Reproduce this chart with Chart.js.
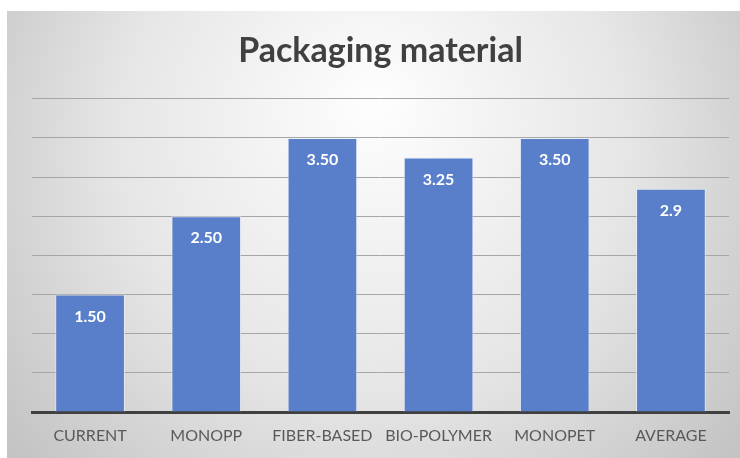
<!DOCTYPE html>
<html>
<head>
<meta charset="utf-8">
<script src="https://cdn.jsdelivr.net/npm/chart.js@4"></script>
<style>
  html, body { margin: 0; padding: 0; background: #fff; }
  #wrap { position: absolute; left: 7px; top: 11px; width: 733px; height: 447px; }
</style>
</head>
<body>
<div id="wrap"><canvas id="packaging-chart"></canvas></div>
<script>
// Packaging material scores
const categories = ["CURRENT", "MONOPP", "FIBER-BASED", "BIO-POLYMER", "MONOPET", "AVERAGE"];
const scores = [1.5, 2.5, 3.5, 3.25, 3.5, 2.85];
const labelDigits = [2, 2, 2, 2, 2, 1];

// Grey radial backdrop behind the whole chart
const backdrop = {
    id: "backdrop",
    beforeDraw(chart) {
        const c = chart.ctx;
        const w = chart.width, h = chart.height;
        const g = c.createRadialGradient(w * 0.5, h * 0.2, 10, w * 0.5, h * 0.35, w * 0.62);
        g.addColorStop(0, "#fdfdfd");
        g.addColorStop(0.55, "#e6e6e6");
        g.addColorStop(1, "#c4c4c4");
        c.save();
        c.fillStyle = g;
        c.fillRect(0, 0, w, h);
        c.restore();
    }
};

// White value labels near the top of each bar
const barValues = {
    id: "barValues",
    afterDatasetsDraw(chart) {
        const c = chart.ctx;
        const meta = chart.getDatasetMeta(0);
        c.save();
        c.font = "bold 16px Lato";
        c.fillStyle = "#ffffff";
        c.textAlign = "center";
        c.textBaseline = "middle";
        meta.data.forEach(function (bar, i) {
            c.fillText(scores[i].toFixed(labelDigits[i]), bar.x, bar.y + 22);
        });
        c.restore();
    }
};

const ctx = document.getElementById("packaging-chart").getContext("2d");
const myChart = new Chart(ctx, {
    type: "bar",
    data: {
        labels: categories,
        datasets: [{
            data: scores,
            backgroundColor: "#5a7fca",
            borderColor: "rgba(235, 240, 250, 0.7)",
            borderWidth: 1,
            borderSkipped: "bottom",
            categoryPercentage: 1,
            barPercentage: 0.6
        }]
    },
    options: {
        responsive: true,
        maintainAspectRatio: false,
        animation: false,
        layout: { padding: { left: 25, right: 11, top: 20, bottom: 0 } },
        plugins: {
            legend: { display: false },
            tooltip: { enabled: false },
            title: {
                display: true,
                text: "Packaging material",
                color: "#404040",
                font: { family: "Lato", size: 34, weight: "bold" },
                padding: { top: 0, bottom: 27 }
            }
        },
        scales: {
            x: {
                grid: { display: false, drawTicks: false },
                border: { display: true, color: "#404040", width: 3 },
                ticks: {
                    color: "#595959",
                    font: { family: "Lato", size: 16 },
                    padding: 14,
                    maxRotation: 0,
                    autoSkip: false
                },
                afterFit: function (scale) {
                    scale.height = 46;
                }
            },
            y: {
                min: 0,
                max: 4,
                ticks: { display: false, stepSize: 0.5 },
                grid: { color: "#a6a6a6", lineWidth: 1, drawTicks: false },
                border: { display: false }
            }
        }
    },
    plugins: [backdrop, barValues]
});
</script>
</body>
</html>
